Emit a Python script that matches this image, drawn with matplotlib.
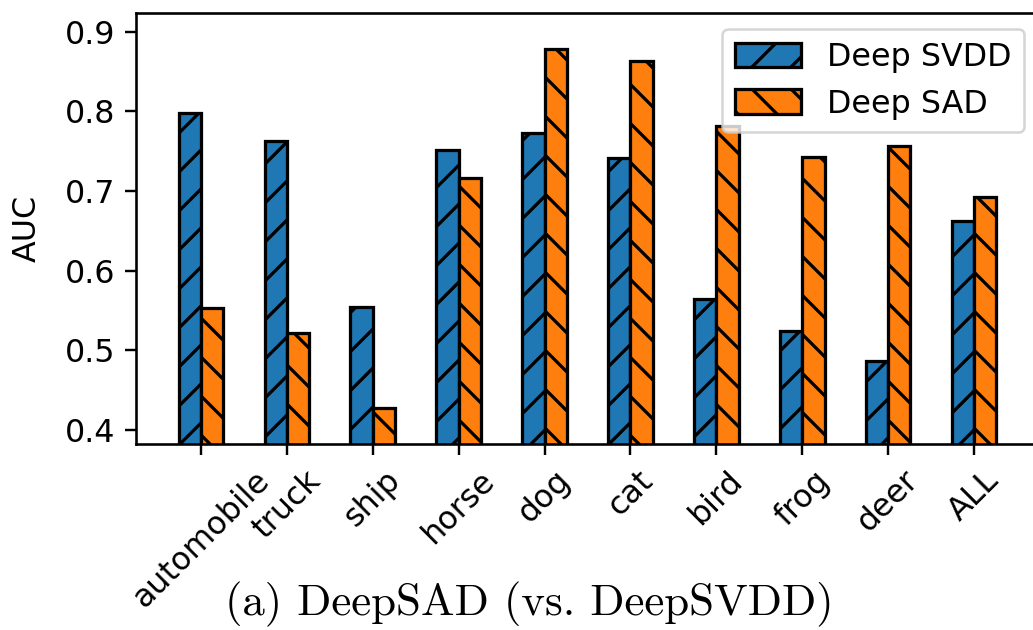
import matplotlib
matplotlib.use("Agg")
import matplotlib.pyplot as plt
import numpy as np

categories = ["automobile", "truck", "ship", "horse", "dog", "cat", "bird", "frog", "deer", "ALL"]
deep_svdd = [0.798, 0.763, 0.554, 0.752, 0.773, 0.742, 0.564, 0.524, 0.486, 0.662]
deep_sad = [0.553, 0.522, 0.428, 0.716, 0.878, 0.863, 0.781, 0.743, 0.757, 0.693]
yticks = [0.4, 0.5, 0.6, 0.7, 0.8, 0.9]

DPI = 117
W, H = 1033, 630
s = 2.0
plt.rcParams['hatch.linewidth'] = 1.0 * s
plt.rcParams['font.size'] = 19.5

fig = plt.figure(figsize=(W / DPI, H / DPI), dpi=DPI)
left, right = 136 / W, 1039 / W
top, bottom = 1 - 13.3 / H, 1 - 444 / H
ax = fig.add_axes([left, bottom, right - left, top - bottom])

x = np.arange(len(categories))
w = 0.26
ax.bar(x - w / 2, deep_svdd, w, color='#1f77b4', edgecolor='black', linewidth=1.0 * s,
       hatch='/', label='Deep SVDD')
ax.bar(x + w / 2, deep_sad, w, color='#ff7f0e', edgecolor='black', linewidth=1.0 * s,
       hatch='\\', label='Deep SAD')

ax.set_xlim(-0.757, 9.757)
ax.set_ylim(0.3824, 0.923)
ax.set_yticks(yticks)
ax.set_yticklabels([f"{v:.1f}" for v in yticks])
ax.set_xticks(x)
ax.set_xticklabels(categories, rotation=45)
ax.set_ylabel('AUC')
ax.yaxis.set_label_coords(-(136 - 27) / (1039 - 136), 0.5)
ax.yaxis.label.set_va('center')
ax.tick_params(length=3.5 * 1.85, width=0.8 * 1.85, pad=3.5 * 1.85)
for sp in ax.spines.values():
    sp.set_linewidth(0.8 * s)

leg = ax.legend(loc='upper right', bbox_to_anchor=(1024 / W, 1 - 29 / H),
                bbox_transform=fig.transFigure, borderaxespad=0,
                fontsize=19.5, handlelength=2.1, handleheight=0.8)
leg.get_frame().set_linewidth(0.8 * s)

fig.text(529 / W, 1 - 604 / H, '(a) DeepSAD (vs. DeepSVDD)', family='cmr10',
         fontsize=27.7, ha='center', va='center')

fig.savefig('out.png', dpi=DPI)
